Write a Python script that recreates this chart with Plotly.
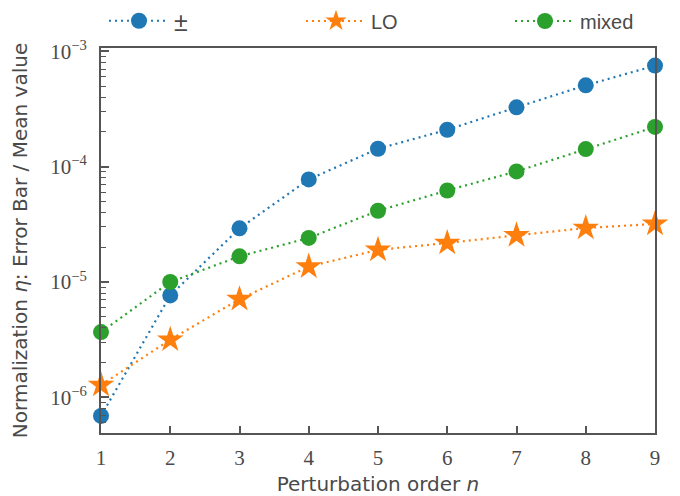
import plotly.graph_objects as go

orders = [1, 2, 3, 4, 5, 6, 7, 8, 9]
pm_vals = [6.9e-7, 7.65e-6, 2.92e-5, 7.76e-5, 1.43e-4, 2.09e-4, 3.27e-4, 5.07e-4, 7.52e-4]
lo_vals = [1.28e-6, 3.16e-6, 7.1e-6, 1.36e-5, 1.9e-5, 2.18e-5, 2.54e-5, 2.94e-5, 3.19e-5]
mixed_vals = [3.68e-6, 1.0e-5, 1.67e-5, 2.41e-5, 4.15e-5, 6.22e-5, 9.1e-5, 1.42e-4, 2.21e-4]
series_names = ["±", "LO", "mixed"]
ytick_vals = [1e-6, 1e-5, 1e-4, 1e-3]
ytick_text = ["10<sup>−6</sup>", "10<sup>−5</sup>", "10<sup>−4</sup>", "10<sup>−3</sup>"]

# page body has an 8px margin; figure is sized/offset to compensate
W, H = 672, 488
colors = ["#1f77b4", "#ff7f0e", "#2ca02c"]
symbols = ["circle", "star", "circle"]
sizes = [16, 20, 16]
legend_ids = ["legend", "legend2", "legend3"]
legend_x = [96, 293, 502]
legend_font_sizes = [25, 20, 20]
TXT = "#4a4a4a"
AX = "#555555"

fig = go.Figure()
for name, vals, c, s, sz, lg in zip(series_names, [pm_vals, lo_vals, mixed_vals], colors, symbols, sizes, legend_ids):
    fig.add_trace(go.Scatter(
        x=orders, y=vals, name=name, mode="lines+markers",
        line=dict(color=c, width=2.2, dash="2px,4px"),
        marker=dict(symbol=s, size=sz, color=c, line=dict(width=0)),
        cliponaxis=False, legend=lg,
    ))


def legend_cfg(x, fs):
    return dict(orientation="h", xref="container", yref="container",
                yanchor="middle", y=1 - 13 / H, xanchor="left", x=x / W,
                font=dict(family="Liberation Sans", size=fs, color=TXT),
                itemwidth=60, bgcolor="rgba(0,0,0,0)")


fig.update_layout(
    width=W, height=H,
    margin=dict(l=93, r=25, t=40, b=63, autoexpand=False),
    paper_bgcolor="white", plot_bgcolor="white",
    showlegend=True,
    legend=legend_cfg(legend_x[0], legend_font_sizes[0]),
    legend2=legend_cfg(legend_x[1], legend_font_sizes[1]),
    legend3=legend_cfg(legend_x[2], legend_font_sizes[2]),
    xaxis=dict(
        range=[1, 9], tickvals=orders, ticks="inside", ticklen=7, tickwidth=1.5,
        tickcolor=AX, showline=True, linecolor=AX, linewidth=2, mirror=True,
        showgrid=False, zeroline=False, automargin=False, ticklabelstandoff=5,
        tickfont=dict(family="Liberation Serif", size=21, color=TXT),
        title=dict(text="Perturbation order <i>n</i>", standoff=8,
                   font=dict(family="DejaVu Sans", size=20, color=TXT)),
    ),
    yaxis=dict(
        type="log", range=[-6.309, -2.971], tickvals=ytick_vals, ticktext=ytick_text,
        ticks="inside", ticklen=8, tickwidth=1.5, tickcolor=AX,
        showline=True, linecolor=AX, linewidth=2, mirror=True,
        showgrid=False, zeroline=False, automargin=False, ticklabelstandoff=8,
        minor=dict(ticks="inside", ticklen=5, tickwidth=1, tickcolor=AX, dtick="D1", showgrid=False),
        tickfont=dict(family="Liberation Serif", size=21, color=TXT),
        title=dict(text="Normalization <i>η</i>: Error Bar / Mean value", standoff=20,
                   font=dict(family="DejaVu Sans", size=20, color=TXT)),
    ),
)

fig.write_html("out.html")
